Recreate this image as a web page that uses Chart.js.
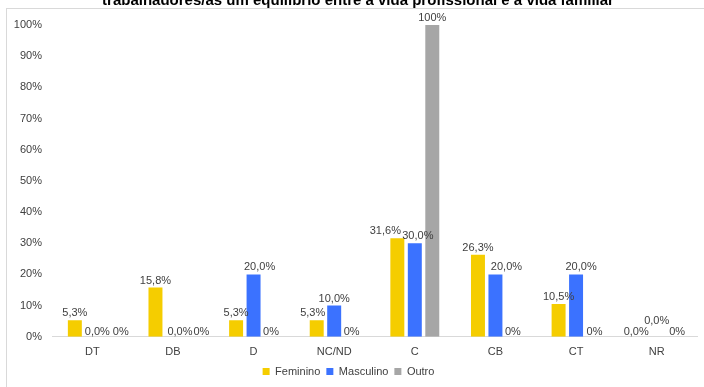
<!DOCTYPE html>
<html>
<head>
<meta charset="utf-8">
<script src="https://cdn.jsdelivr.net/npm/chart.js@4/dist/chart.umd.min.js"></script>
<style>
  html, body { margin: 0; padding: 0; background: #fff; }
  #wrap { position: relative; width: 704px; height: 387px; }
</style>
</head>
<body>
<div id="wrap"><canvas id="chart" width="704" height="387"></canvas></div>
<script>
const titleText = "trabalhadores/as um equilíbrio entre a vida profissional e a vida familiar";
const categories = ["DT", "DB", "D", "NC/ND", "C", "CB", "CT", "NR"];
const feminino = [5.3, 15.8, 5.3, 5.3, 31.6, 26.3, 10.5, 0.0];
const masculino = [0.0, 0.0, 20.0, 10.0, 30.0, 20.0, 20.0, 0.0];
const outro = [0, 0, 0, 0, 100, 0, 0, 0];
const yTicks = [0, 10, 20, 30, 40, 50, 60, 70, 80, 90, 100];

// small manual shifts of some value labels, like in the original
const labelNudge = {
  "1:0": [5, 2], "2:0": [11, 2],
  "1:1": [7, 2], "2:1": [11, 2],
  "1:2": [6, 0], "2:2": [0, 2],
  "0:3": [-4, 0], "2:3": [0, 2],
  "0:4": [-12, 0], "1:4": [3, 0],
  "1:5": [11, 0], "2:5": [0, 2],
  "1:6": [5, 0], "2:6": [1, 2],
  "0:7": [-3, 2], "1:7": [0, -9], "2:7": [3, 2]
};

const FONT = "'Liberation Sans', Arial, sans-serif";
const TXT = "#404040";

const frame = {
  id: "frame",
  beforeDraw(chart) {
    const ctx = chart.ctx;
    ctx.save();
    ctx.strokeStyle = "#d9d9d9";
    ctx.lineWidth = 1;
    ctx.strokeRect(6.5, 8.5, 710, 400);
    ctx.fillStyle = "#000";
    ctx.font = "bold 15px " + FONT;
    ctx.textAlign = "center";
    ctx.textBaseline = "alphabetic";
    ctx.fillText(titleText, 358, 5);
    ctx.restore();
  }
};

const valueLabels = {
  id: "valueLabels",
  afterDatasetsDraw(chart) {
    const ctx = chart.ctx;
    ctx.save();
    ctx.font = "11px " + FONT;
    ctx.fillStyle = TXT;
    ctx.textAlign = "center";
    ctx.textBaseline = "alphabetic";
    chart.data.datasets.forEach((ds, di) => {
      chart.getDatasetMeta(di).data.forEach((bar, i) => {
        const v = ds.data[i];
        const txt = di === 2 ? v.toFixed(0) + "%" : v.toFixed(1).replace(".", ",") + "%";
        const n = labelNudge[di + ":" + i] || [0, 0];
        ctx.fillText(txt, bar.x + n[0], bar.y - 4 + n[1]);
      });
    });
    ctx.restore();
  }
};

new Chart(document.getElementById("chart"), {
  type: "bar",
  data: {
    labels: categories,
    datasets: [
      { label: "Feminino", data: feminino, backgroundColor: "#f5cd00" },
      { label: "Masculino", data: masculino, backgroundColor: "#3b72ff" },
      { label: "Outro", data: outro, backgroundColor: "#a6a6a6" }
    ]
  },
  options: {
    responsive: false,
    animation: false,
    devicePixelRatio: 1,
    layout: { padding: { top: 25, right: 7, bottom: 0, left: 0 } },
    datasets: { bar: { categoryPercentage: 0.65, barPercentage: 0.8 } },
    scales: {
      x: {
        grid: { display: false },
        border: { display: true, color: "#d9d9d9", width: 1 },
        ticks: { color: TXT, font: { family: FONT, size: 11 }, padding: 1 }
      },
      y: {
        min: 0,
        max: 100,
        afterFit(s) { s.width = 52; },
        afterBuildTicks(s) { s.ticks = yTicks.map(v => ({ value: v })); },
        grid: { display: false, drawTicks: false, tickLength: 0 },
        border: { display: false },
        ticks: {
          color: TXT,
          font: { family: FONT, size: 11 },
          padding: 10,
          callback: v => v + "%"
        }
      }
    },
    plugins: {
      legend: {
        position: "bottom",
        labels: {
          boxWidth: 7,
          boxHeight: 7,
          padding: 6,
          color: TXT,
          font: { family: FONT, size: 11 }
        }
      },
      tooltip: { enabled: false }
    }
  },
  plugins: [frame, valueLabels]
});
</script>
</body>
</html>
